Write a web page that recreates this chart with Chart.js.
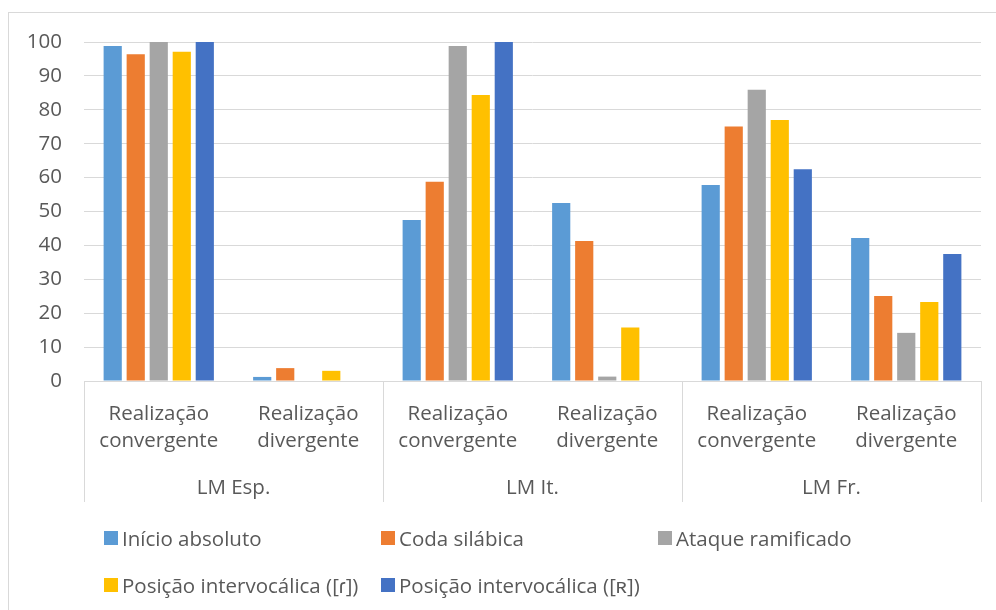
<!DOCTYPE html>
<html lang="pt">
<head>
<meta charset="utf-8">
<title>Realização convergente / divergente</title>
<script src="https://cdn.jsdelivr.net/npm/chart.js@4.4.1/dist/chart.umd.min.js"></script>
<style>
    html, body { margin: 0; padding: 0; background: #fff; overflow: hidden; }
    #wrap { position: relative; width: 996px; height: 610px; overflow: hidden; }
    #moldura { position: absolute; left: 8px; top: 12px; width: 1100px; height: 800px; border: 1px solid #d9d9d9; }
    #grafico { position: absolute; left: 0; top: 0; }
    #legenda {
        position: absolute; left: 104px; top: 524px;
        display: grid; grid-template-columns: 277px 277px 277px; row-gap: 19px;
        font-family: 'Open Sans', sans-serif; font-size: 20.5px; color: #595959;
    }
    .item { display: flex; align-items: center; height: 28px; white-space: nowrap; }
    .item .cor { width: 14px; height: 14px; margin-right: 4px; flex: none; }
</style>
</head>
<body>
<div id="wrap">
    <div id="moldura"></div>
    <canvas id="grafico" width="996" height="610"></canvas>
    <div id="legenda"></div>
</div>
<script>
// categorias (nível 1) e grupos (nível 2) do eixo x
const categorias = [
    ['Realização', 'convergente'], ['Realização', 'divergente'],
    ['Realização', 'convergente'], ['Realização', 'divergente'],
    ['Realização', 'convergente'], ['Realização', 'divergente']
];
const grupos = ['LM Esp.', 'LM It.', 'LM Fr.'];

// valores (%)
const inicioAbsoluto = [98.8, 1.2, 47.5, 52.5, 57.8, 42.2];
const codaSilabica = [96.4, 3.8, 58.8, 41.3, 75.1, 25.1];
const ataqueRamificado = [100, 0, 98.8, 1.3, 85.9, 14.2];
const intervocalicaTepe = [97.1, 3.0, 84.4, 15.8, 77.0, 23.3];
const intervocalicaUvular = [100, 0, 100, 0, 62.5, 37.5];

const nomesSeries = [
    'Início absoluto', 'Coda silábica', 'Ataque ramificado',
    'Posição intervocálica ([ɾ])', 'Posição intervocálica ([ʀ])'
];
const cores = ['#5B9BD5', '#ED7D31', '#A5A5A5', '#FFC000', '#4472C4'];
const valores = [inicioAbsoluto, codaSilabica, ataqueRamificado, intervocalicaTepe, intervocalicaUvular];

const fonte = { family: "'Open Sans', sans-serif", size: 20.5, lineHeight: 1.32 };
const cinzaTexto = '#595959';
const cinzaLinha = '#d9d9d9';

// linhas verticais que separam os grupos no eixo x
const separadores = {
    id: 'separadores',
    afterDraw(chart) {
        const x = chart.scales.x;
        const g = chart.scales.grupo;
        const ctx = chart.ctx;
        const meia = (x.getPixelForValue(1) - x.getPixelForValue(0)) / 2;
        ctx.save();
        ctx.strokeStyle = cinzaLinha;
        ctx.lineWidth = 1;
        for (let k = 0; k <= categorias.length; k += 2) {
            const px = Math.round(x.getPixelForValue(k) - meia) + 0.5;
            ctx.beginPath();
            ctx.moveTo(px, chart.chartArea.bottom);
            ctx.lineTo(px, g.bottom);
            ctx.stroke();
        }
        ctx.restore();
    }
};

function montarLegenda() {
    const legenda = document.getElementById('legenda');
    nomesSeries.forEach((nome, i) => {
        const item = document.createElement('div');
        item.className = 'item';
        item.innerHTML = `<span class="cor" style="background:${cores[i]}"></span><span>${nome}</span>`;
        legenda.appendChild(item);
    });
}

function initChart() {
    const datasets = nomesSeries.map((nome, i) => ({
        label: nome,
        data: valores[i],
        backgroundColor: cores[i],
        borderWidth: 0,
        categoryPercentage: 0.77,
        barPercentage: 0.79
    }));

    new Chart(document.getElementById('grafico'), {
        type: 'bar',
        data: { labels: categorias, datasets: datasets },
        options: {
            responsive: false,
            animation: false,
            devicePixelRatio: 1,
            layout: { padding: { top: 42, right: 15, bottom: 108, left: 0 } },
            plugins: {
                legend: { display: false },
                tooltip: { enabled: false }
            },
            scales: {
                x: {
                    position: 'bottom',
                    weight: 0,
                    grid: { display: false, drawTicks: false },
                    border: { display: true, color: cinzaLinha, width: 1 },
                    ticks: { color: cinzaTexto, font: fonte, padding: 20, maxRotation: 0, autoSkip: false },
                    afterFit(scale) { scale.height = 80; }
                },
                grupo: {
                    type: 'category',
                    labels: grupos,
                    position: 'bottom',
                    weight: 1,
                    offset: true,
                    grid: { display: false, drawTicks: false },
                    border: { display: false },
                    ticks: { color: cinzaTexto, font: fonte, padding: 14, maxRotation: 0 },
                    afterFit(scale) { scale.height = 41; }
                },
                y: {
                    min: 0,
                    max: 100,
                    grid: { color: cinzaLinha, lineWidth: 1, drawTicks: false },
                    border: { display: false },
                    ticks: { stepSize: 10, color: cinzaTexto, font: fonte, padding: 22 },
                    afterFit(scale) { scale.width = 84; }
                }
            }
        },
        plugins: [separadores]
    });
}

window.onload = function() {
    montarLegenda();
    initChart();
};
</script>
</body>
</html>
